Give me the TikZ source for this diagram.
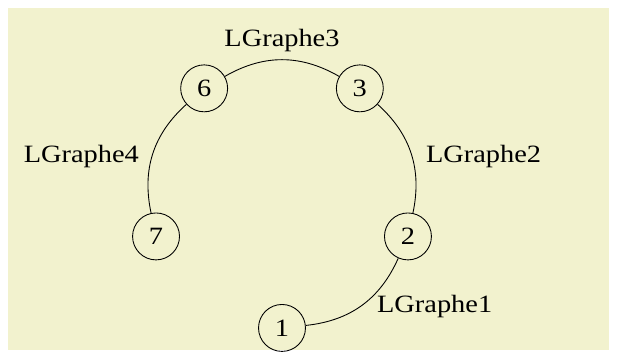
\documentclass[tikz,border=0pt]{standalone}
\usepackage{fontspec}
\setmainfont{Liberation Serif}[FakeStretch=1.14]
\definecolor{bgyellow}{RGB}{242,242,206}
\tikzset{
  vertex/.style={circle,draw,thin,minimum size=21.3pt,inner sep=0pt},
  link/.style={draw,thin},
  every node/.style={font=\fontsize{11.3}{13}\selectfont},
}
\begin{document}
\begin{tikzpicture}[x=0.4538pt,y=-0.4538pt]
\useasboundingbox (0,0) rectangle (617,358);
\fill[bgyellow] (8,8) rectangle (609,350);
\coordinate (c) at (282,195.5);
\node[vertex] (n1) at ([shift={(-90:60.1pt)}]c) {1};
\node[vertex] (n2) at ([shift={(-18:60.1pt)}]c) {2};
\node[vertex] (n3) at ([shift={(54:60.1pt)}]c) {3};
\node[vertex] (n6) at ([shift={(126:60.1pt)}]c) {6};
\node[vertex] (n7) at ([shift={(198:60.1pt)}]c) {7};
\draw[link] (n1) to[bend right=30] node[right,xshift=3.4pt,yshift=-0.5pt] {LGraphe1} (n2);
\draw[link] (n2) to[bend right=30] node[right,xshift=3.2pt,yshift=-1.4pt] {LGraphe2} (n3);
\draw[link] (n3) to[bend right=30] node[above] {LGraphe3} (n6);
\draw[link] (n6) to[bend right=30] node[left,xshift=-2.8pt,yshift=-1.4pt] {LGraphe4} (n7);
\end{tikzpicture}
\end{document}
